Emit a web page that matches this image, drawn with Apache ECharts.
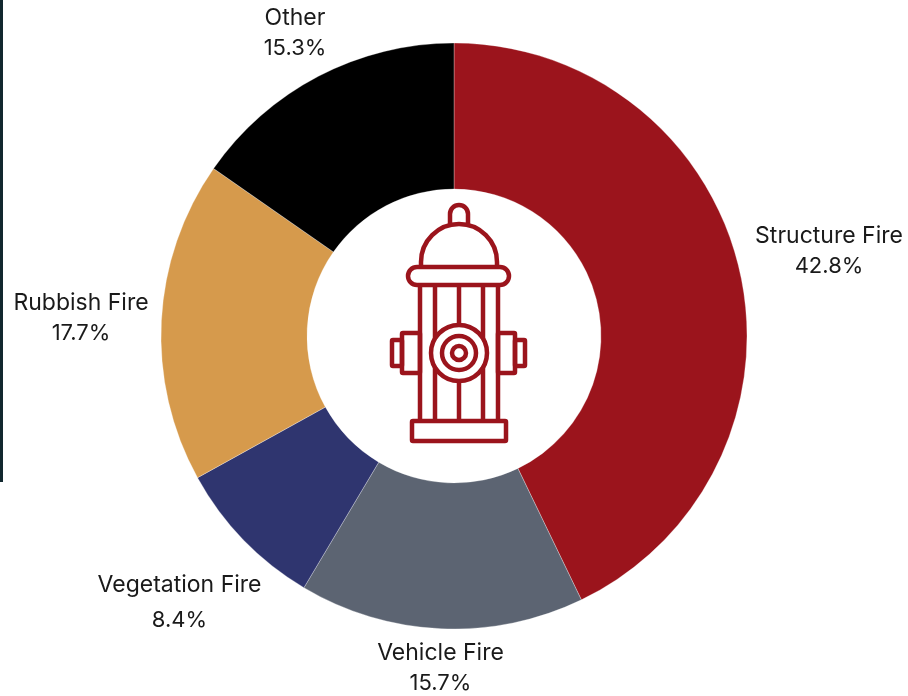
<!DOCTYPE html>
<html>
<head>
<meta charset="UTF-8">
<title>Fire incidents by type</title>
<script src="https://cdn.jsdelivr.net/npm/echarts@6/dist/echarts.min.js"></script>
<style>
  html, body { margin: 0; background: #fff; }
  #main { width: 908px; height: 696px; }
</style>
</head>
<body>
<div id="main"></div>
<script>
// chart values
var categories = ['Structure Fire', 'Vehicle Fire', 'Vegetation Fire', 'Rubbish Fire', 'Other'];
var shares = [42.8, 15.7, 8.4, 17.7, 15.3];
var colors = ['#9b141c', '#5c6472', '#2f356f', '#d69a4c', '#000000'];

// label centres, page pixels
var labelX = [829, 440.5, 179.5, 81, 295];
var labelY = [251.5, 668.5, 603, 318.5, 33.5];

var RED = '#9b141c';
var lineStyle = { fill: 'none', stroke: RED, lineWidth: 4.5 };

function box(x1, y1, x2, y2, r) {
    return { type: 'rect', z: 10, shape: { x: x1, y: y1, width: x2 - x1, height: y2 - y1, r: r || 1 }, style: lineStyle };
}
function bar(x, y1, y2) {
    return { type: 'line', z: 10, shape: { x1: x, y1: y1, x2: x, y2: y2 }, style: lineStyle };
}
function ring(r) {
    return { type: 'circle', z: 10, shape: { cx: 459, cy: 353, r: r }, style: lineStyle };
}
function dome(cy, r) {
    return { type: 'arc', z: 10, shape: { cx: 459, cy: cy, r: r, startAngle: Math.PI, endAngle: 0, clockwise: true }, style: lineStyle };
}

var hydrant = [
    // cap
    dome(214, 9), bar(450, 214, 224), bar(468, 214, 224),
    dome(262, 38), bar(421, 262, 268), bar(497, 262, 268),
    box(408, 267, 509, 285, 9),
    // body
    bar(420, 285, 421), bar(498, 285, 421),
    bar(435, 285, 339), bar(435, 367, 421),
    bar(483, 285, 339), bar(483, 367, 421),
    bar(459, 285, 325), bar(459, 381, 421),
    // valve
    ring(28), ring(17), ring(7),
    // side outlets
    box(402, 333, 420, 373), box(392, 340, 402, 366),
    box(498, 333, 515, 373), box(515, 340, 525, 366),
    // base
    box(412, 421, 506, 441)
];

var pieData = [];
for (var i = 0; i < categories.length; i++) {
    var tall = categories[i] === 'Vegetation Fire';
    pieData.push({
        name: categories[i],
        value: shares[i],
        itemStyle: { color: colors[i] },
        label: tall ? {
            rich: {
                n: { fontFamily: 'Inter', fontSize: 23, lineHeight: 35, color: '#1a1a1a' },
                v: { fontFamily: 'Inter', fontSize: 22, lineHeight: 35, color: '#1a1a1a' }
            }
        } : {}
    });
}

var myChart = echarts.init(document.getElementById('main'), null, { renderer: 'canvas' });

var option = {
    backgroundColor: '#ffffff',
    animation: false,
    graphic: [
        { type: 'rect', shape: { x: 0, y: 0, width: 3, height: 482 }, style: { fill: '#12282f' } }
    ].concat(hydrant),
    series: [{
        type: 'pie',
        center: [454, 336],
        radius: [147, 293],
        startAngle: 90,
        clockwise: true,
        data: pieData,
        itemStyle: { borderColor: '#ffffff', borderWidth: 0.3 },
        emphasis: { disabled: true },
        label: {
            show: true,
            position: 'outside',
            width: 220,
            overflow: 'none',
            formatter: '{n|{b}}\n{v|{c}%}',
            align: 'center',
            verticalAlign: 'middle',
            rich: {
                n: { fontFamily: 'Inter', fontSize: 23, lineHeight: 30, color: '#1a1a1a' },
                v: { fontFamily: 'Inter', fontSize: 22, lineHeight: 30, color: '#1a1a1a' }
            }
        },
        labelLine: { show: false },
        labelLayout: function (params) {
            return { x: labelX[params.dataIndex], y: labelY[params.dataIndex], align: 'center', verticalAlign: 'middle', hideOverlap: false };
        }
    }]
};

myChart.setOption(option);
</script>
</body>
</html>
